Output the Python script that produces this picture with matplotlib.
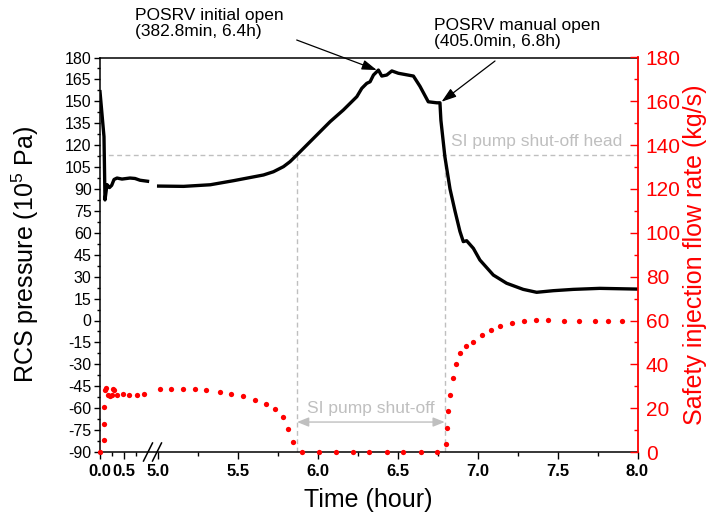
import numpy as np
import matplotlib
matplotlib.use('Agg')
import matplotlib.pyplot as plt
from matplotlib.ticker import FixedLocator, MultipleLocator
from matplotlib.lines import Line2D
from matplotlib.transforms import IdentityTransform

plt.rcParams['font.family'] = ['Liberation Sans', 'DejaVu Sans']
plt.rcParams['mathtext.fontset'] = 'custom'
plt.rcParams['mathtext.rm'] = 'Liberation Sans'
plt.rcParams['mathtext.it'] = 'Liberation Sans:italic'
plt.rcParams['axes.unicode_minus'] = False

# ---- data: RCS pressure (1e5 Pa) vs time (h); NaN marks the axis break
p_time = [0.0, 0.084, 0.105, 0.147, 0.2, 0.246, 0.295, 0.358, 0.463, 0.632, 0.737, 0.842, 1.01,
          np.nan,
          5.004, 5.16, 5.327, 5.473, 5.66, 5.722, 5.785, 5.826, 5.869, 5.952, 6.077, 6.16,
          6.244, 6.275, 6.306, 6.327, 6.348, 6.379, 6.4, 6.431, 6.463, 6.504, 6.598, 6.639,
          6.691, 6.744, 6.764, 6.77, 6.795, 6.827, 6.858, 6.889, 6.91, 6.931, 6.973, 7.014,
          7.098, 7.181, 7.285, 7.369, 7.473, 7.598, 7.764, 8.0]
p_val = [156.6, 125.8, 82.5, 93.0, 91.0, 92.5, 96.5, 97.5, 96.8, 97.5, 97.2, 96.0, 95.3,
         np.nan,
         92.0, 91.8, 92.9, 95.7, 99.6, 101.8, 105.3, 108.7, 113.3, 122.4, 136.1, 144.1,
         153.2, 158.9, 162.3, 163.4, 168.0, 171.4, 167.3, 168.0, 170.8, 169.2, 167.3, 160.3,
         149.7, 149.0, 149.0, 137.0, 112.0, 90.0, 75.0, 61.0, 54.0, 54.6, 49.4, 41.4,
         31.1, 25.5, 21.3, 19.3, 20.4, 21.3, 22.0, 21.5]

# ---- data: safety injection flow rate (kg/s)
si_time = [0.0, 0.088, 0.09, 0.092, 0.105, 0.126, 0.175, 0.21, 0.246, 0.28, 0.295, 0.364,
           0.478, 0.617, 0.773, 0.933,
           5.01, 5.081, 5.154, 5.229, 5.302, 5.385, 5.458, 5.529, 5.604, 5.675, 5.735, 5.785,
           5.816, 5.844, 5.902, 6.008, 6.114, 6.218, 6.322, 6.431, 6.535, 6.644, 6.748,
           6.802, 6.81, 6.816, 6.827, 6.843, 6.864, 6.889, 6.927, 6.968, 7.025, 7.081, 7.139,
           7.212, 7.287, 7.362, 7.441, 7.541, 7.634, 7.737, 7.816, 7.904]
si_val = [0.0, 5.3, 13.0, 20.7, 28.3, 29.4, 26.0, 25.7, 26.0, 28.8, 28.2, 26.0,
          26.3, 26.2, 25.9, 26.6,
          28.9, 28.9, 28.8, 28.6, 28.2, 27.5, 26.3, 25.4, 23.9, 22.1, 19.5, 15.8,
          10.4, 4.4, 0.0, 0.0, 0.0, 0.0, 0.0, 0.0, 0.0, 0.0, 0.0,
          3.5, 11.1, 18.7, 26.0, 33.6, 40.0, 45.3, 48.4, 50.2, 53.4, 55.7, 57.5,
          59.0, 59.8, 60.3, 60.3, 60.0, 59.7, 59.7, 59.7, 59.7]

shutoff_head = 113.0
shutoff_start = 5.87
shutoff_end = 6.794

x_major = [0.0, 0.5, 5.0, 5.5, 6.0, 6.5, 7.0, 7.5, 8.0]
x_major_labels = ['0.0', '0.5', '5.0', '5.5', '6.0', '6.5', '7.0', '7.5', '8.0']
x_minor = [0.25, 0.75, 5.25, 5.75, 6.25, 6.75, 7.25, 7.75]

# broken x scale: 0-1 h compressed, 1-5 h hidden in a tiny gap
bp_t = [0.0, 1.0, 5.0, 8.0]
bp_u = [0.0, 47.5, 58.0, 537.5]


def fwd(t):
    return np.interp(t, bp_t, bp_u)


def inv(u):
    return np.interp(u, bp_u, bp_t)


W, H = 718, 519
fig = plt.figure(figsize=(W / 100, H / 100), dpi=100)
ax = fig.add_axes([100 / W, 1 - 452 / H, 537.5 / W, 394.5 / H])
ax.set_xscale('function', functions=(fwd, inv))
ax.set_xlim(0, 8)
ax.set_ylim(-90, 180)

grey = '#bfbfbf'
dash = (0, (3.5, 2.5))
ax.axhline(shutoff_head, color=grey, lw=1, ls=dash, zorder=1)
ax.plot([shutoff_start, shutoff_start], [-90, shutoff_head], color=grey, lw=1, ls=dash, zorder=1)
ax.plot([shutoff_end, shutoff_end], [-90, shutoff_head], color=grey, lw=1, ls=dash, zorder=1)

ax.plot(p_time, p_val, color='black', lw=2.4, zorder=3)

ax.xaxis.set_major_locator(FixedLocator(x_major))
ax.set_xticklabels(x_major_labels, fontweight='bold', fontsize=12)
ax.xaxis.set_minor_locator(FixedLocator(x_minor))
ax.yaxis.set_major_locator(MultipleLocator(15))
ax.yaxis.set_minor_locator(MultipleLocator(7.5))
ax.tick_params(axis='x', which='major', direction='out', length=5, width=1, pad=4, labelsize=12)
ax.tick_params(axis='x', which='minor', direction='out', length=3, width=1)
ax.tick_params(axis='y', which='major', direction='out', length=4, width=1, pad=2, labelsize=11.5)
ax.tick_params(axis='y', which='minor', direction='out', length=2.2, width=1)
ax.spines['right'].set_visible(False)
for s in ['left', 'bottom', 'top']:
    ax.spines[s].set_linewidth(1.1)

ax.set_xlabel('Time (hour)', fontsize=18)
ax.xaxis.set_label_coords(0.5, -0.09)
ax.set_ylabel('RCS pressure (10$^{5}$ Pa)', fontsize=18)
ax.yaxis.set_label_coords(-0.11, 0.5)

ax2 = ax.twinx()
ax2.set_ylim(0, 180)
ax2.plot(si_time, si_val, 'o', color='#ff0000', ms=3.8, mec='none', clip_on=False, zorder=5)
ax2.yaxis.set_major_locator(MultipleLocator(20))
ax2.yaxis.set_minor_locator(MultipleLocator(10))
ax2.tick_params(axis='y', which='major', direction='in', length=5.5, width=1, pad=6,
                labelsize=15, colors='#ff0000')
ax2.tick_params(axis='y', which='minor', direction='in', length=3, width=1, colors='#ff0000')
ax2.spines['right'].set_color('#ff0000')
ax2.spines['right'].set_linewidth(1.3)
for s in ['left', 'bottom', 'top']:
    ax2.spines[s].set_visible(False)
ax2.set_ylabel('Safety injection flow rate (kg/s)', fontsize=18, color='#ff0000')
ax2.yaxis.set_label_coords(1.085, 0.5)

# shut-off annotations
ax.annotate('', xy=(shutoff_start, -69.5), xytext=(shutoff_end, -69.5),
            arrowprops=dict(arrowstyle='<|-|>,head_length=0.5,head_width=0.2', color=grey, lw=1,
                            shrinkA=0, shrinkB=0, mutation_scale=14))
ax.text(6.33, -60, 'SI pump shut-off', ha='center', va='center', color=grey, fontsize=12.5)
ax.text(7.903, 122.4, 'SI pump shut-off head', ha='right', va='center', color=grey, fontsize=12.5)

# POSRV annotations
fig.text(135 / W, 1 - 8 / H, 'POSRV initial open\n(382.8min, 6.4h)', ha='left', va='top',
         fontsize=12.5, linespacing=1.12)
fig.text(434 / W, 1 - 18 / H, 'POSRV manual open\n(405.0min, 6.8h)', ha='left', va='top',
         fontsize=12.5, linespacing=1.12)
aprops = dict(arrowstyle='-|>,head_length=0.45,head_width=0.15', color='black', lw=0.9,
              shrinkA=0, shrinkB=0, mutation_scale=20)
ax.annotate('', xy=(6.369, 171.4), xycoords='data', xytext=(296.7, H - 40),
            textcoords='figure pixels', arrowprops=aprops)
ax.annotate('', xy=(6.774, 149.7), xycoords='data', xytext=(495, H - 61),
            textcoords='figure pixels', arrowprops=aprops)

# axis break marks
for x0 in (143.5, 152.5):
    fig.add_artist(Line2D([x0, x0 + 9], [H - 461, H - 443], color='black', lw=1.1,
                          transform=IdentityTransform()))

fig.savefig('out.png', dpi=100)
